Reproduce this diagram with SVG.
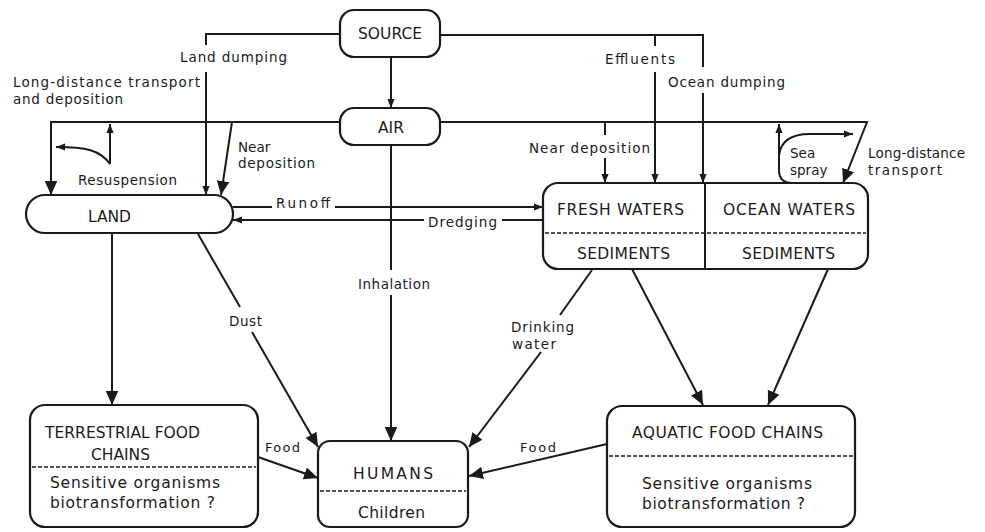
<svg xmlns="http://www.w3.org/2000/svg" width="985" height="532" viewBox="0 0 985 532">
<defs>
<style>
.bx{fill:#fff;stroke:#1a1a1a;stroke-width:2.2}
.ln{fill:none;stroke:#1a1a1a;stroke-width:2}
.dl{fill:none;stroke:#1a1a1a;stroke-width:1.3;stroke-dasharray:4 2}
.t{font-family:"DejaVu Sans","Liberation Sans",sans-serif;fill:#1a1a1a}
.lb{font-size:13.5px}
.nd{font-size:15.5px}
.sm{font-size:13px}
</style>
<marker id="a" viewBox="0 0 10 10" refX="10" refY="5" markerWidth="9" markerHeight="9" markerUnits="userSpaceOnUse" orient="auto"><path d="M0,1 L10,5 L0,9 z" fill="#1a1a1a"/></marker>
<marker id="b" viewBox="0 0 10 10" refX="10" refY="5" markerWidth="14" markerHeight="14" markerUnits="userSpaceOnUse" orient="auto"><path d="M0,0.5 L10,5 L0,9.5 z" fill="#1a1a1a"/></marker>
</defs>
<rect width="985" height="532" fill="#fff"/>

<g id="connectors">
<path class="ln" d="M340,34 L206,34 L206,45"/>
<path class="ln" d="M206,72 L206,195" marker-end="url(#a)"/>
<path class="ln" d="M440,35 L703,35 L703,67"/>
<path class="ln" d="M703,93 L703,183" marker-end="url(#a)"/>
<path class="ln" d="M655,35 L655,46"/>
<path class="ln" d="M655,72 L655,183" marker-end="url(#a)"/>
<path class="ln" d="M391,57 L391,108" marker-end="url(#a)"/>
<path class="ln" d="M340,122 L51,122 L51,195" marker-end="url(#b)"/>
<path class="ln" d="M232,122 L221,195" marker-end="url(#b)"/>
<path class="ln" d="M110,164 L110,124" marker-end="url(#a)"/>
<path class="ln" d="M110,164 C100,150 86,147 56,147" marker-end="url(#a)"/>
<path class="ln" d="M440,122 L867,122 L843,183" marker-end="url(#b)"/>
<path class="ln" d="M605,122 L605,135"/>
<path class="ln" d="M605,158 L605,183" marker-end="url(#a)"/>
<path class="ln" d="M792,183 Q779,183 779,170 L779,124" marker-end="url(#a)"/>
<path class="ln" d="M779,156 Q781,134 810,134 L853,134" marker-end="url(#a)"/>
<path class="ln" d="M391,145 L391,270"/>
<path class="ln" d="M391,295 L391,441" marker-end="url(#b)"/>
<path class="ln" d="M233,207 L272,207"/>
<path class="ln" d="M335,207 L543,207" marker-end="url(#a)"/>
<path class="ln" d="M543,220 L502,220"/>
<path class="ln" d="M424,220 L233,220" marker-end="url(#a)"/>
<path class="ln" d="M112,233 L112,405" marker-end="url(#b)"/>
<path class="ln" d="M198,234 L240,307"/>
<path class="ln" d="M252,332 L318,447" marker-end="url(#b)"/>
<path class="ln" d="M592,270 L560,315"/>
<path class="ln" d="M541,352 L469,447" marker-end="url(#b)"/>
<path class="ln" d="M632,269 L703,405" marker-end="url(#b)"/>
<path class="ln" d="M828,269 L768,405" marker-end="url(#b)"/>
<path class="ln" d="M258,457 L318,478" marker-end="url(#b)"/>
<path class="ln" d="M607,444 L469,476" marker-end="url(#b)"/>
</g>

<g id="labels">
<text class="t lb" x="180" y="62" textLength="107" lengthAdjust="spacing">Land dumping</text>
<text class="t lb" x="13" y="87" textLength="187" lengthAdjust="spacing">Long-distance transport</text>
<text class="t lb" x="13" y="104" textLength="110" lengthAdjust="spacing">and deposition</text>
<text class="t lb" x="605" y="64" textLength="70" lengthAdjust="spacing">Effluents</text>
<text class="t lb" x="668" y="87" textLength="117" lengthAdjust="spacing">Ocean dumping</text>
<text class="t lb" x="238" y="152">Near</text>
<text class="t lb" x="238" y="168" textLength="77" lengthAdjust="spacing">deposition</text>
<text class="t lb" x="529" y="153" textLength="121" lengthAdjust="spacing">Near deposition</text>
<text class="t lb" x="790" y="158">Sea</text>
<text class="t lb" x="790" y="175">spray</text>
<text class="t lb" x="868" y="158" textLength="97" lengthAdjust="spacing">Long-distance</text>
<text class="t lb" x="868" y="175" textLength="74" lengthAdjust="spacing">transport</text>
<text class="t lb" x="78" y="185" textLength="99" lengthAdjust="spacing">Resuspension</text>
<text class="t lb" x="276" y="208" textLength="54" lengthAdjust="spacing">Runoff</text>
<text class="t lb" x="428" y="227" textLength="69" lengthAdjust="spacing">Dredging</text>
<text class="t lb" x="358" y="289" textLength="72" lengthAdjust="spacing">Inhalation</text>
<text class="t lb" x="229" y="326" textLength="33" lengthAdjust="spacing">Dust</text>
<text class="t lb" x="511" y="332" textLength="63" lengthAdjust="spacing">Drinking</text>
<text class="t lb" x="512" y="349" textLength="44" lengthAdjust="spacing">water</text>
<text class="t sm" x="265" y="452" textLength="35" lengthAdjust="spacing">Food</text>
<text class="t sm" x="520" y="452" textLength="36" lengthAdjust="spacing">Food</text>
</g>

<g id="source">
<rect class="bx" x="340" y="10" width="100" height="47" rx="14"/>
<text class="t nd" x="390" y="39" text-anchor="middle" font-size="17">SOURCE</text>
</g>
<g id="air">
<rect class="bx" x="340" y="108" width="100" height="37" rx="14"/>
<text class="t nd" x="391" y="133" text-anchor="middle" font-size="17">AIR</text>
</g>
<g id="land">
<rect class="bx" x="26" y="195" width="207" height="38" rx="19"/>
<text class="t nd" x="88" y="222" textLength="43" lengthAdjust="spacing">LAND</text>
</g>
<g id="waters">
<rect class="bx" x="543" y="183" width="325" height="86" rx="15"/>
<line class="ln" x1="705" y1="183" x2="705" y2="269"/>
<line class="dl" x1="545" y1="233" x2="866" y2="233"/>
<text class="t nd" x="557" y="215" textLength="127" lengthAdjust="spacing">FRESH WATERS</text>
<text class="t nd" x="723" y="215" textLength="132" lengthAdjust="spacing">OCEAN WATERS</text>
<text class="t nd" x="577" y="259" textLength="93" lengthAdjust="spacing">SEDIMENTS</text>
<text class="t nd" x="742" y="259" textLength="93" lengthAdjust="spacing">SEDIMENTS</text>
</g>
<g id="terrestrial">
<rect class="bx" x="30" y="405" width="228" height="122" rx="15"/>
<line class="dl" x1="32" y1="467" x2="256" y2="467"/>
<text class="t nd" x="45" y="438" textLength="155" lengthAdjust="spacing">TERRESTRIAL FOOD</text>
<text class="t nd" x="91" y="460" textLength="59" lengthAdjust="spacing">CHAINS</text>
<text class="t nd" x="50" y="488" textLength="170" lengthAdjust="spacing">Sensitive organisms</text>
<text class="t nd" x="50" y="508" textLength="165" lengthAdjust="spacing">biotransformation ?</text>
</g>
<g id="humans">
<rect class="bx" x="318" y="441" width="150" height="86" rx="12"/>
<line class="dl" x1="320" y1="491" x2="466" y2="491"/>
<text class="t nd" x="353" y="479" textLength="80" lengthAdjust="spacing" font-size="17">HUMANS</text>
<text class="t nd" x="358" y="518" textLength="67" lengthAdjust="spacing">Children</text>
</g>
<g id="aquatic">
<rect class="bx" x="607" y="406" width="248" height="121" rx="15"/>
<line class="dl" x1="609" y1="456" x2="853" y2="456"/>
<text class="t nd" x="632" y="438" textLength="191" lengthAdjust="spacing">AQUATIC FOOD CHAINS</text>
<text class="t nd" x="642" y="489" textLength="170" lengthAdjust="spacing">Sensitive organisms</text>
<text class="t nd" x="642" y="509" textLength="163" lengthAdjust="spacing">biotransformation ?</text>
</g>
</svg>
